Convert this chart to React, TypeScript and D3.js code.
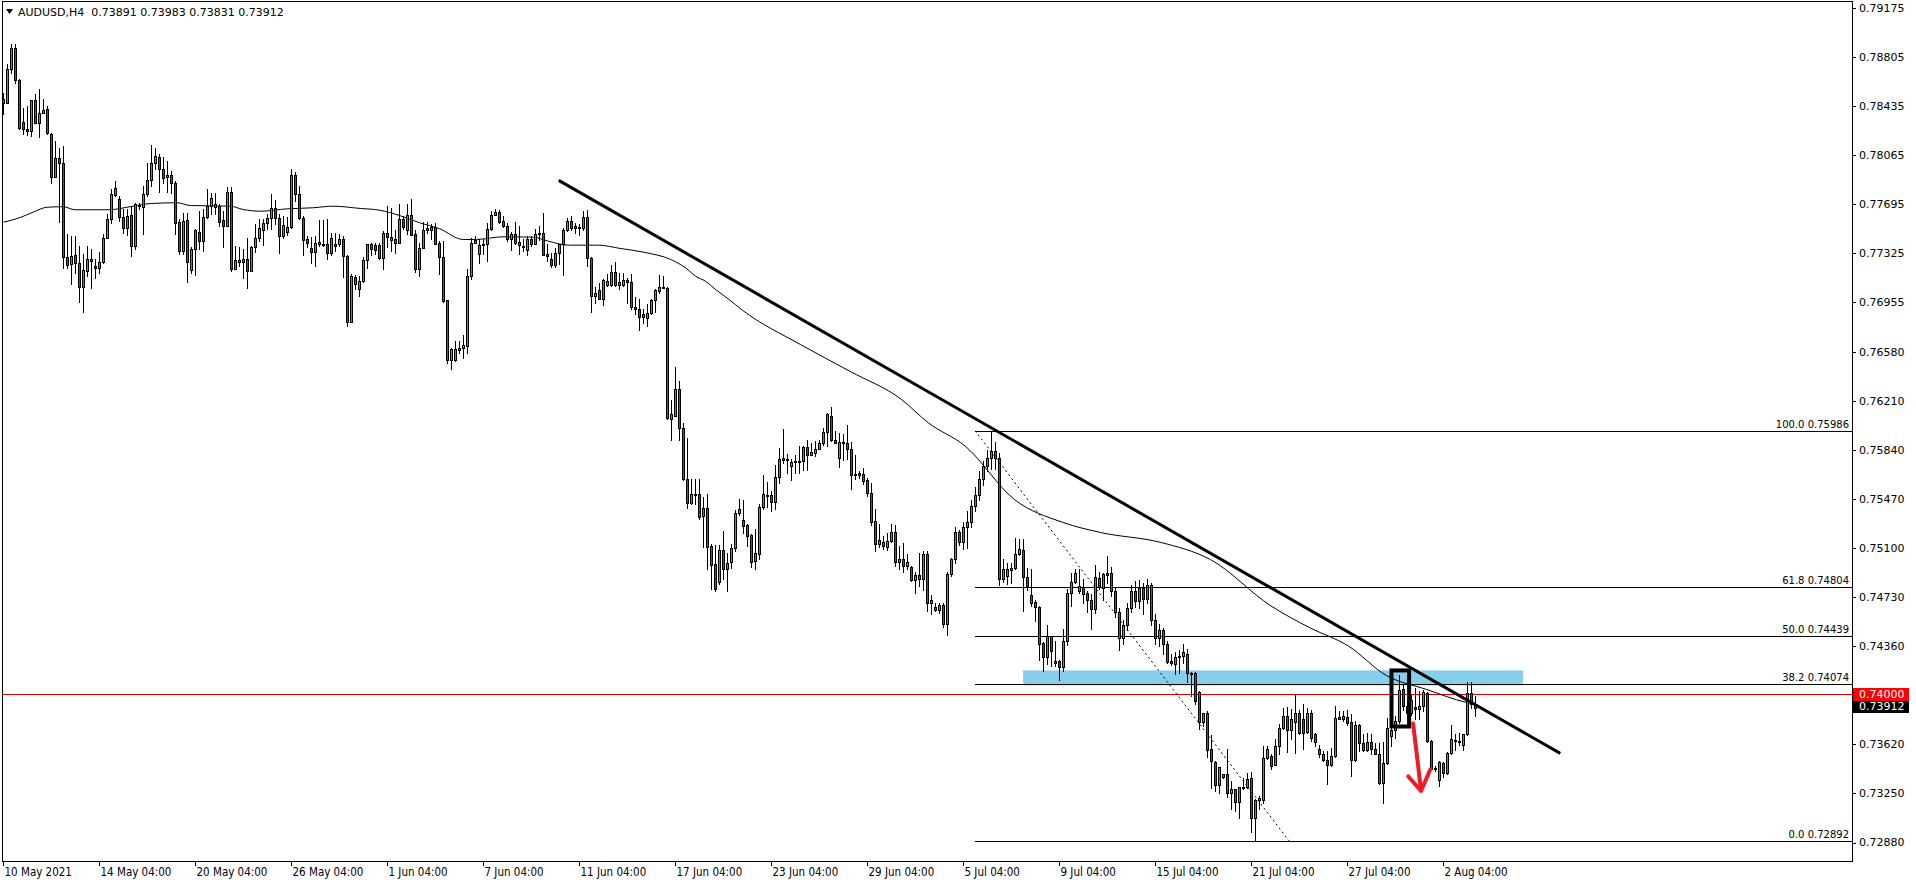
import React, { useEffect, useRef } from 'react';
import * as d3 from 'd3';

// AUDUSD H4 candles, [open, high, low, close] in points (1e-5), bar 0 = 10 May 04:00
const seg1 = [ // 10 May - 18 May
  [78485, 78535, 78372, 78460], [78460, 78749, 78460, 78716], [78716, 78905, 78686, 78875], [78875, 78900, 78611, 78631],
  [78631, 78640, 78260, 78269], [78317, 78417, 78221, 78264], [78266, 78435, 78214, 78249], [78249, 78478, 78209, 78478],
  [78478, 78523, 78309, 78309], [78309, 78566, 78204, 78385], [78385, 78485, 78385, 78407], [78415, 78435, 78221, 78229],
  [78224, 78229, 77857, 77902], [77902, 78171, 77902, 78045], [78045, 78121, 77560, 78007], [78007, 78133, 77215, 77296],
  [77296, 77467, 77215, 77238], [77246, 77454, 77090, 77303], [77314, 77454, 77178, 77253], [77253, 77379, 76957, 77070],
  [77070, 77316, 76881, 77195], [77190, 77379, 77153, 77278], [77268, 77354, 77065, 77278], [77226, 77278, 77140, 77213],
  [77213, 77334, 77178, 77261], [77261, 77467, 77253, 77442], [77442, 77618, 77442, 77585], [77585, 77806, 77555, 77769],
  [77764, 77869, 77756, 77814], [77731, 77756, 77567, 77600], [77600, 77655, 77479, 77517], [77517, 77655, 77459, 77605],
  [77610, 77681, 77303, 77379], [77379, 77706, 77354, 77693], [77681, 77701, 77655, 77691], [77676, 77831, 77467, 77769],
  [77769, 78007, 77756, 77874], [77874, 78138, 77831, 78007], [78007, 78121, 77957, 78058], [78053, 78070, 77786, 77962],
  [77962, 78050, 77857, 77894], [77899, 78020, 77786, 77919], [77917, 77945, 77781, 77852], [77852, 77869, 77467, 77555],
  [77560, 77580, 77316, 77341], [77341, 77630, 77316, 77568], [77573, 77630, 77108, 77258],
];
const seg2 = [ // 18 May - 26 May
  [77198, 77374, 77173, 77359], [77359, 77505, 77158, 77497], [77487, 77643, 77359, 77419], [77419, 77655, 77341, 77600],
  [77600, 77811, 77593, 77681], [77681, 77781, 77618, 77743], [77698, 77781, 77618, 77676], [77681, 77693, 77530, 77563],
  [77573, 77643, 77372, 77530], [77530, 77826, 77530, 77789], [77789, 77826, 77190, 77203], [77208, 77379, 77203, 77276],
  [77276, 77374, 77228, 77258], [77258, 77354, 77138, 77283], [77283, 77442, 77065, 77193], [77193, 77379, 77190, 77374],
  [77374, 77542, 77334, 77442], [77442, 77580, 77417, 77517], [77500, 77580, 77384, 77550], [77550, 77618, 77505, 77593],
  [77593, 77769, 77505, 77668], [77668, 77723, 77542, 77588], [77588, 77623, 77329, 77454], [77454, 77605, 77437, 77537],
  [77487, 77598, 77459, 77525], [77525, 77962, 77517, 77914], [77914, 77940, 77718, 77774], [77774, 77836, 77580, 77593],
  [77593, 77605, 77309, 77424], [77429, 77454, 77374, 77404], [77361, 77447, 77253, 77336], [77336, 77454, 77228, 77404],
  [77412, 77573, 77379, 77391], [77397, 77575, 77379, 77384], [77391, 77580, 77278, 77324], [77324, 77474, 77309, 77442],
  [77379, 77474, 77341, 77397], [77397, 77467, 77379, 77429], [77429, 77454, 77145, 77303], [77303, 77309, 76776, 76808],
  [76808, 77165, 76806, 77150], [77145, 77160, 77052, 77090], [77057, 77153, 77002, 77115], [77115, 77296, 77108, 77271],
  [77271, 77397, 77216, 77391],
];
const seg3 = [ // 26 May - 4 Jun
  [77391, 77404, 77311, 77359], [77384, 77404, 77323, 77353], [77384, 77404, 77278, 77291], [77291, 77492, 77203, 77479],
  [77479, 77685, 77374, 77446], [77449, 77668, 77341, 77424], [77429, 77504, 77328, 77404], [77404, 77693, 77404, 77580],
  [77580, 77605, 77509, 77524], [77504, 77693, 77467, 77617], [77617, 77731, 77462, 77462], [77467, 77504, 77183, 77203],
  [77208, 77404, 77157, 77366], [77366, 77560, 77366, 77504], [77499, 77560, 77479, 77512], [77499, 77547, 77429, 77524],
  [77524, 77555, 77391, 77396], [77399, 77416, 77171, 77296], [77298, 77416, 76959, 76964], [76969, 76975, 76499, 76521],
  [76519, 76612, 76454, 76604], [76516, 76662, 76511, 76599], [76597, 76662, 76574, 76612], [76612, 76712, 76536, 76632],
  [76627, 77203, 76574, 77157], [77152, 77441, 77132, 77399], [77399, 77454, 77399, 77424], [77316, 77429, 77253, 77384],
  [77384, 77434, 77316, 77391], [77391, 77555, 77265, 77509], [77509, 77643, 77504, 77617], [77615, 77660, 77615, 77633],
  [77638, 77650, 77555, 77562], [77572, 77605, 77524, 77534], [77534, 77555, 77416, 77434], [77434, 77484, 77353, 77467],
  [77467, 77562, 77391, 77404], [77409, 77529, 77316, 77386], [77379, 77429, 77341, 77374], [77353, 77454, 77308, 77434],
  [77434, 77454, 77379, 77391], [77391, 77509, 77391, 77472], [77474, 77534, 77424, 77467], [77474, 77630, 77308, 77308],
  [77316, 77391, 77265, 77303], [77278, 77328, 77223, 77233], [77233, 77366, 77223, 77328],
];
const seg4 = [ // 4 Jun - 21 Jun
  [77328, 77396, 77245, 77391], [77391, 77516, 77164, 77504], [77504, 77592, 77491, 77572], [77572, 77604, 77504, 77516],
  [77529, 77554, 77479, 77516], [77521, 77542, 77466, 77516], [77516, 77640, 77504, 77600], [77600, 77650, 77228, 77290],
  [77290, 77300, 76881, 77002], [77002, 77069, 76951, 77027], [77044, 77102, 76981, 76981], [76981, 77127, 76934, 77120],
  [77084, 77165, 77077, 77115], [77084, 77233, 77077, 77185], [77185, 77258, 77077, 77084], [77084, 77177, 77057, 77110],
  [77084, 77177, 77077, 77120], [77110, 77140, 76951, 77120], [77110, 77165, 76906, 76921], [76921, 76996, 76863, 76901],
  [76906, 76981, 76745, 76846], [76863, 76901, 76800, 76846], [76838, 76939, 76775, 76876], [76876, 76981, 76863, 76969],
  [76969, 77052, 76881, 77044], [77039, 77160, 77027, 77072], [77072, 77152, 77062, 77062], [77064, 77070, 76071, 76084],
  [76076, 76217, 75920, 76109], [76096, 76466, 76096, 76298], [76298, 76360, 75920, 76006], [76008, 76046, 75614, 75619],
  [75624, 75928, 75405, 75443], [75443, 75619, 75430, 75511], [75506, 75619, 75430, 75501], [75506, 75619, 75317, 75335],
  [75342, 75488, 75111, 75405], [75405, 75511, 74945, 75111], [75116, 75129, 74789, 74975], [74978, 75121, 74777, 74789],
  [74844, 75121, 74827, 75083], [75083, 75229, 74865, 74945], [74945, 75066, 74777, 74990], [74995, 75129, 74953, 75103],
  [75103, 75388, 75078, 75362], [75362, 75468, 75347, 75393],
];
const seg5 = [ // 21 Jun - 1 Jul
  [75310, 75463, 75216, 75267], [75272, 75279, 75116, 75191], [75196, 75204, 74960, 74995], [75003, 75242, 74945, 75066],
  [75058, 75430, 75020, 75412], [75412, 75649, 75397, 75511], [75503, 75599, 75412, 75493], [75498, 75531, 75380, 75450],
  [75450, 75729, 75392, 75639], [75639, 75857, 75593, 75775], [75777, 75996, 75744, 75769], [75775, 75807, 75669, 75764],
  [75719, 75775, 75614, 75752], [75759, 75800, 75669, 75752], [75752, 75870, 75664, 75759], [75757, 75870, 75689, 75865],
  [75865, 75920, 75689, 75805], [75805, 75895, 75802, 75827], [75820, 75908, 75795, 75850], [75850, 75920, 75845, 75895],
  [75895, 76008, 75875, 75978], [75978, 76121, 75870, 76109], [76101, 76167, 75908, 75915], [75915, 75983, 75890, 75895],
  [75780, 75971, 75712, 75903], [75903, 75963, 75769, 75895], [75895, 76026, 75775, 75845], [75850, 75900, 75548, 75649],
  [75656, 75800, 75624, 75649], [75664, 75681, 75631, 75654], [75656, 75707, 75581, 75606], [75611, 75629, 75493, 75513],
  [75518, 75593, 75272, 75297], [75302, 75392, 75078, 75133], [75133, 75279, 75108, 75159], [75149, 75191, 75091, 75116],
  [75108, 75216, 75086, 75154], [75154, 75279, 75146, 75224], [75224, 75272, 74965, 74995], [74995, 75116, 74940, 75020],
  [75020, 75136, 74920, 74965], [74965, 75053, 74940, 74998], [74957, 74965, 74852, 74857], [74862, 74920, 74759, 74895],
  [74895, 75066, 74814, 74870], [74866, 75078, 74784, 75053], [75053, 75078, 74626, 74688],
];
const seg6 = [ // 1 Jul - 9 Jul
  [74688, 74744, 74600, 74713], [74658, 74688, 74625, 74633], [74633, 74688, 74608, 74673], [74673, 74688, 74505, 74530],
  [74530, 74922, 74449, 74902], [74902, 75028, 74894, 75015], [75015, 75260, 74985, 75220], [75220, 75240, 75121, 75146],
  [75146, 75300, 75091, 75260], [75260, 75380, 75103, 75300], [75300, 75460, 75260, 75420], [75420, 75560, 75380, 75500],
  [75500, 75680, 75460, 75620], [75620, 75760, 75580, 75720], [75720, 75840, 75680, 75780], [75780, 75986, 75700, 75830],
  [75830, 75900, 75700, 75780], [75780, 75820, 74819, 74869], [74869, 75015, 74844, 74945], [74894, 74985, 74832, 74940],
  [74935, 74990, 74839, 74952], [74952, 75180, 74945, 75060], [75053, 75170, 75045, 75091], [75083, 75170, 74625, 74884],
  [74884, 74952, 74784, 74814], [74744, 74945, 74663, 74688], [74693, 74708, 74550, 74658], [74658, 74665, 74256, 74379],
  [74387, 74392, 74173, 74281], [74279, 74517, 74223, 74434], [74434, 74437, 74211, 74324], [74246, 74399, 74211, 74231],
  [74246, 74256, 74105, 74206], [74206, 74492, 74173, 74397], [74397, 74789, 74367, 74759], [74759, 74915, 74663, 74847],
  [74847, 74945, 74834, 74915], [74776, 74940, 74759, 74814], [74809, 74864, 74683, 74756], [74759, 74776, 74618, 74708],
  [74713, 74751, 74487, 74643], [74643, 74970, 74608, 74884], [74877, 74920, 74789, 74809], [74801, 74915, 74713, 74902],
  [74897, 75040, 74839, 74915],
];
const seg7 = [ // 9 Jul - 21 Jul
  [74915, 74960, 74740, 74780], [74780, 74800, 74580, 74620], [74620, 74650, 74330, 74420], [74420, 74560, 74380, 74520],
  [74520, 74690, 74480, 74650], [74650, 74820, 74620, 74780], [74780, 74850, 74660, 74700], [74700, 74860, 74650, 74800],
  [74800, 74840, 74600, 74720], [74720, 74870, 74690, 74820], [74820, 74840, 74520, 74560], [74560, 74600, 74380, 74420],
  [74420, 74530, 74360, 74480], [74480, 74500, 74300, 74380], [74380, 74400, 74236, 74241], [74248, 74300, 74220, 74231],
  [74223, 74320, 74148, 74280], [74280, 74330, 74160, 74290], [74290, 74380, 74236, 74320], [74300, 74340, 74090, 74160],
  [74160, 74165, 73984, 74148], [74160, 74165, 73922, 73947], [74017, 74020, 73733, 73791], [73791, 73859, 73758, 73859],
  [73859, 73870, 73524, 73577], [73582, 73690, 73293, 73494], [73489, 73492, 73268, 73313], [73313, 73452, 73255, 73452],
  [73376, 73399, 73369, 73399], [73399, 73582, 73223, 73255], [73255, 73343, 73130, 73281], [73281, 73284, 73117, 73185],
  [73185, 73298, 73062, 73298], [73298, 73369, 73281, 73288], [73298, 73406, 73293, 73361], [73369, 73414, 72960, 73062],
  [73062, 73205, 72892, 73200], [73200, 73230, 73130, 73218], [73200, 73607, 73180, 73514], [73514, 73607, 73507, 73582],
  [73534, 73544, 73431, 73457], [73462, 73658, 73462, 73607], [73607, 73771, 73544, 73746], [73746, 73896, 73733, 73834],
  [73838, 73900, 73565, 73728], [73728, 73884, 73658, 73808], [73790, 73990, 73556, 73858],
];
const seg8 = [ // 21 Jul - 3 Aug
  [73858, 73883, 73695, 73707], [73808, 73921, 73589, 73707], [73715, 73896, 73707, 73858], [73858, 73883, 73644, 73665],
  [73700, 73707, 73607, 73639], [73587, 73614, 73524, 73549], [73549, 73569, 73493, 73506], [73506, 73569, 73318, 73463],
  [73463, 73594, 73456, 73536], [73531, 73913, 73524, 73820], [73825, 73871, 73808, 73815], [73808, 73871, 73800, 73833],
  [73828, 73883, 73770, 73783], [73788, 73851, 73380, 73499], [73499, 73795, 73493, 73765], [73765, 73775, 73569, 73632],
  [73632, 73695, 73569, 73581], [73581, 73707, 73569, 73639], [73639, 73695, 73544, 73587], [73587, 73632, 73544, 73549],
  [73551, 73632, 73325, 73330], [73330, 73639, 73179, 73481], [73481, 73820, 73470, 73745], [73682, 73883, 73607, 73732],
  [73732, 73833, 73670, 73795], [73795, 74142, 73783, 74034], [74039, 74067, 73883, 73908], [73908, 73946, 73820, 73858],
  [73858, 73996, 73840, 73954], [73903, 74047, 73808, 73888], [73888, 74021, 73808, 73908], [73908, 74027, 73871, 74016],
  [74009, 74016, 73639, 73644], [73649, 73652, 73431, 73438], [73443, 73456, 73423, 73431], [73348, 73493, 73305, 73488],
  [73481, 73488, 73373, 73406], [73406, 73564, 73398, 73556], [73556, 73765, 73549, 73657], [73654, 73695, 73581, 73644],
  [73649, 73707, 73619, 73639], [73619, 73700, 73581, 73695], [73695, 74092, 73690, 74009], [74009, 74092, 73891, 73921],
  [73891, 73983, 73831, 73912],
];

// moving average: [bar, price]
const maLine = [
  [0, 0.77559], [4.2, 0.77595], [7.4, 0.77635], [10.9, 0.77672], [14.9, 0.77676], [17.9, 0.77653], [26.2, 0.77653],
  [32.4, 0.7768], [36.7, 0.777], [43.4, 0.77706], [46.7, 0.77685], [56.7, 0.7768], [59.9, 0.77655], [64.2, 0.77642],
  [70.9, 0.7766], [77.4, 0.77668], [82.4, 0.7768], [89.2, 0.77663], [94, 0.7765], [99, 0.7761], [104, 0.77555],
  [109, 0.7751], [114.9, 0.77429], [118.2, 0.77429], [124.9, 0.77449], [132.4, 0.77446], [136.2, 0.77416],
  [141.2, 0.77386], [148.7, 0.77386], [154.2, 0.77361], [160.4, 0.77331], [166.8, 0.77278], [170.5, 0.77215],
  [173, 0.77152], [175.5, 0.77114], [178, 0.77052], [181.4, 0.76976], [184.7, 0.76896], [199.2, 0.76637],
  [211.7, 0.76433], [224.5, 0.76222], [231.2, 0.76046], [240.4, 0.75871], [252.7, 0.75468], [264.9, 0.75294],
  [274.2, 0.75219], [289.4, 0.75143], [301.7, 0.75015], [316.9, 0.74664], [326.7, 0.74498], [336.2, 0.74363],
  [345.7, 0.7414], [355.7, 0.74035], [365.7, 0.73937], [368.2, 0.73922],
];

const priceTicks = [0.79175, 0.78805, 0.78435, 0.78065, 0.77695, 0.77325, 0.76955, 0.7658, 0.7621, 0.7584, 0.7547, 0.751, 0.7473, 0.7436, 0.7362, 0.7325, 0.7288];
const dateLabels = ['10 May 2021', '14 May 04:00', '20 May 04:00', '26 May 04:00', '1 Jun 04:00', '7 Jun 04:00', '11 Jun 04:00', '17 Jun 04:00', '23 Jun 04:00', '29 Jun 04:00', '5 Jul 04:00', '9 Jul 04:00', '15 Jul 04:00', '21 Jul 04:00', '27 Jul 04:00', '2 Aug 04:00'];
const barsPerLabel = 24;

const trendLine = [[138.8, 0.77875], [389.2, 0.73552]];
const fibAnchors = [[242.9, 0.75986], [321.4, 0.72892]];
const fibLevels = [100, 61.8, 50, 38.2, 0];
const zoneBars = [254.9, 379.9];
const zonePrices = [0.74178, 0.74065];
const boxBars = [347, 351.4];
const boxPrices = [0.74178, 0.73755];
const arrowShaft = [[352.4, 0.73778], [354.4, 0.7327]];
const arrowHead = [[351.2, 0.73378], [354.4, 0.7327], [356.7, 0.73431]];
const alertPrice = 0.74;
const header = ['AUDUSD,H4', '0.73891', '0.73983', '0.73831', '0.73912'];

const FONT = '"DejaVu Sans", Verdana, sans-serif';

const Chart: React.FC = () => {
  const svgRef = useRef<SVGSVGElement>(null);

  useEffect(() => {
    if (!svgRef.current) return;
    const svg = d3.select(svgRef.current);
    svg.selectAll('*').remove();

    const W = 1916, H = 884;
    const left = 2, top = 1, right = 1852, bottom = 861;

    const bars = [...seg1, ...seg2, ...seg3, ...seg4, ...seg5, ...seg6, ...seg7, ...seg8].map((d, i) => ({
      i, o: d[0] / 1e5, h: d[1] / 1e5, l: d[2] / 1e5, c: d[3] / 1e5,
    }));
    const lastClose = bars[bars.length - 1].c;

    const x = d3.scaleLinear().domain([0, 1]).range([3.5, 7.5]);
    const y = d3.scaleLinear().domain([0.7288, 0.79175]).range([842.5, 8]);
    const py = (p: number) => Math.round(y(p)) + 0.5;

    svg.append('rect').attr('width', W).attr('height', H).attr('fill', '#fff');

    svg.append('defs').append('clipPath').attr('id', 'plotClip')
      .append('rect').attr('x', left).attr('y', top).attr('width', right - left).attr('height', bottom - top);
    const plot = svg.append('g').attr('clip-path', 'url(#plotClip)');

    // support zone
    plot.append('rect')
      .attr('x', x(zoneBars[0])).attr('width', x(zoneBars[1]) - x(zoneBars[0]))
      .attr('y', y(zonePrices[0])).attr('height', y(zonePrices[1]) - y(zonePrices[0]))
      .attr('fill', '#87ceeb');

    // fibonacci levels
    const fibHigh = fibAnchors[0][1], fibLow = fibAnchors[1][1];
    const fib = fibLevels.map(lv => ({ lv, p: +(fibLow + (fibHigh - fibLow) * lv / 100).toFixed(5) }));
    plot.append('g').attr('shape-rendering', 'crispEdges').selectAll('line').data(fib).join('line')
      .attr('x1', x(fibAnchors[0][0])).attr('x2', right)
      .attr('y1', d => py(d.p)).attr('y2', d => py(d.p))
      .attr('stroke', '#000').attr('stroke-width', 1);

    // alert line
    plot.append('line').attr('shape-rendering', 'crispEdges')
      .attr('x1', left).attr('x2', right).attr('y1', py(alertPrice)).attr('y2', py(alertPrice))
      .attr('stroke', '#e00000').attr('stroke-width', 1);

    // moving average
    const ma = d3.line<number[]>().x(d => x(d[0])).y(d => y(d[1])).curve(d3.curveMonotoneX);
    plot.append('path').attr('d', ma(maLine)).attr('fill', 'none').attr('stroke', '#000').attr('stroke-width', 1);

    // candles
    const cg = plot.append('g').attr('shape-rendering', 'crispEdges');
    cg.selectAll('line').data(bars).join('line')
      .attr('x1', d => x(d.i)).attr('x2', d => x(d.i))
      .attr('y1', d => Math.round(y(d.h))).attr('y2', d => Math.round(y(d.l)) + 1)
      .attr('stroke', '#000').attr('stroke-width', 1);
    const bTop = (d: any) => py(Math.max(d.o, d.c));
    const bBot = (d: any) => py(Math.min(d.o, d.c));
    cg.selectAll('rect').data(bars).join('rect')
      .attr('x', d => x(d.i) - 1).attr('width', 2)
      .attr('y', bTop).attr('height', d => Math.max(bBot(d) - bTop(d), 1))
      .attr('fill', d => (d.c >= d.o ? '#34b034' : '#d81e1e'))
      .attr('stroke', '#000').attr('stroke-width', 1);

    // trend line
    plot.append('line')
      .attr('x1', x(trendLine[0][0])).attr('y1', y(trendLine[0][1]))
      .attr('x2', x(trendLine[1][0])).attr('y2', y(trendLine[1][1]))
      .attr('stroke', '#000').attr('stroke-width', 3);

    // fib anchor line
    plot.append('line')
      .attr('x1', x(fibAnchors[0][0])).attr('y1', y(fibAnchors[0][1]))
      .attr('x2', x(fibAnchors[1][0])).attr('y2', y(fibAnchors[1][1]))
      .attr('stroke', '#000').attr('stroke-width', 1).attr('stroke-dasharray', '2,3');

    // signal box
    plot.append('rect')
      .attr('x', x(boxBars[0])).attr('width', x(boxBars[1]) - x(boxBars[0]))
      .attr('y', y(boxPrices[0])).attr('height', y(boxPrices[1]) - y(boxPrices[0]))
      .attr('fill', 'none').attr('stroke', '#000').attr('stroke-width', 4);

    // arrow
    const pl = d3.line<number[]>().x(d => x(d[0])).y(d => y(d[1]));
    [arrowShaft, arrowHead].forEach(pts => {
      plot.append('path').attr('d', pl(pts)).attr('fill', 'none')
        .attr('stroke', '#ed1c24').attr('stroke-width', 4)
        .attr('stroke-linecap', 'round').attr('stroke-linejoin', 'round');
    });

    // fib labels
    svg.append('g').selectAll('text').data(fib).join('text')
      .attr('x', right - 3).attr('y', d => y(d.p) - 3)
      .attr('text-anchor', 'end').attr('font-family', FONT).attr('font-size', 10).attr('fill', '#000')
      .text(d => `${d.lv.toFixed(1)} ${d.p.toFixed(5)}`);

    // frame
    svg.append('rect').attr('x', left + 0.5).attr('y', top + 0.5)
      .attr('width', right - left).attr('height', bottom - top)
      .attr('fill', 'none').attr('stroke', '#000').attr('shape-rendering', 'crispEdges');

    // price axis
    const pa = svg.append('g').attr('font-family', FONT).attr('font-size', 11);
    pa.selectAll('line').data(priceTicks).join('line').attr('shape-rendering', 'crispEdges')
      .attr('x1', right).attr('x2', right + 4).attr('y1', d => py(d)).attr('y2', d => py(d))
      .attr('stroke', '#000');
    pa.selectAll('text').data(priceTicks).join('text')
      .attr('x', right + 7).attr('y', d => y(d)).attr('dy', '0.36em').attr('fill', '#000')
      .text(d => d.toFixed(5));

    // current price and alert price tags
    const tag = (p: number, bg: string) => {
      const g = svg.append('g');
      g.append('rect').attr('x', right + 1).attr('y', Math.round(y(p)) - 6).attr('width', 56).attr('height', 13).attr('fill', bg);
      g.append('text').attr('x', right + 7).attr('y', y(p)).attr('dy', '0.36em')
        .attr('font-family', FONT).attr('font-size', 11).attr('fill', '#fff').text(p.toFixed(5));
    };
    tag(lastClose, '#000');
    tag(alertPrice, '#ff0000');

    // time axis
    const ta = svg.append('g');
    ta.selectAll('line').data(dateLabels).join('line').attr('shape-rendering', 'crispEdges')
      .attr('x1', (_, k) => x(k * barsPerLabel)).attr('x2', (_, k) => x(k * barsPerLabel))
      .attr('y1', bottom).attr('y2', bottom + 5).attr('stroke', '#000');
    ta.selectAll('text').data(dateLabels).join('text')
      .attr('x', (_, k) => x(k * barsPerLabel) + 1).attr('y', 876)
      .attr('font-family', '"DejaVu Sans Condensed", "DejaVu Sans", sans-serif')
      .attr('font-stretch', 'condensed').attr('font-size', 11.5).attr('fill', '#000')
      .text(d => d);

    // header
    svg.append('path').attr('d', 'M6,9 L13,9 L9.5,14 Z').attr('fill', '#000');
    svg.append('text').attr('x', 18).attr('y', 16).attr('font-family', FONT).attr('font-size', 11).attr('fill', '#000')
      .attr('xml:space', 'preserve')
      .text(`${header[0]}  ${header.slice(1).join(' ')}`);
  }, []);

  return (
    <svg ref={svgRef} width={1916} height={884} style={{ position: 'absolute', left: 0, top: 0, display: 'block' }} />
  );
};

export default function App() {
  return <Chart />;
}
